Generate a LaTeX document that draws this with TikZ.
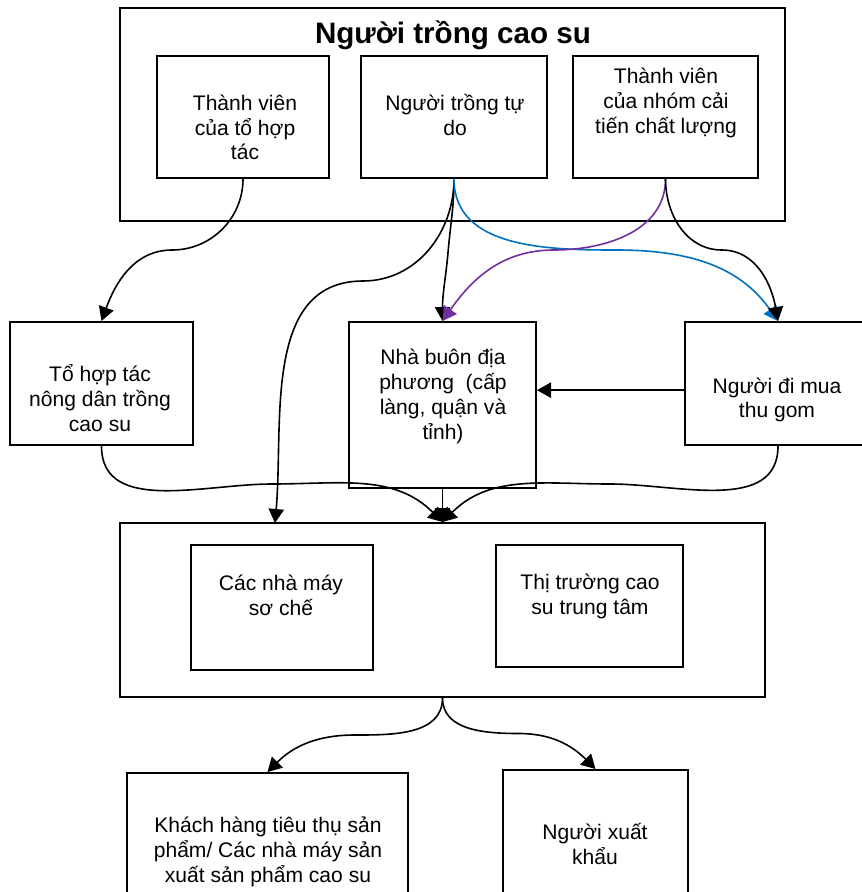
\documentclass[tikz,border=0pt]{standalone}
\usepackage{fontspec}
\setmainfont{Liberation Sans}
\usetikzlibrary{arrows.meta,calc}
\definecolor{chainblue}{HTML}{0070C0}
\definecolor{chainpurple}{HTML}{7030A0}

\begin{document}
\begin{tikzpicture}[x=.75pt,y=.75pt,
  box/.style={draw,line width=1.5pt,inner sep=0pt},
  lbl/.style={align=center,inner sep=0pt,font=\fontsize{15.8}{18.6}\selectfont},
  link/.style={line width=1.2pt,-{Triangle[length=10.5pt,width=11.5pt]}}]
\useasboundingbox(0,0)rectangle(861,-892);
% growers
\node[box,minimum width=498.75pt,minimum height=159.75pt](grow)at(452.5,-114.5){};
\node[font=\fontsize{22.2}{26}\selectfont\bfseries](growT)at(453,-35){Người trồng cao su};
\node[box,minimum width=129pt,minimum height=91.5pt](coop)at(243,-117){};
\node[box,minimum width=139.5pt,minimum height=91.5pt](free)at(454,-117){};
\node[box,minimum width=138.75pt,minimum height=91.5pt](qual)at(665.5,-117){};
\node[lbl](coopT)at(245,-127.5){Thành viên\\của tổ hợp\\tác};
\node[lbl](freeT)at(455,-115){Người trồng tự\\do};
\node[lbl](qualT)at(666,-103){Thành viên\\của nhóm cải\\tiến chất lượng};
% middlemen
\node[box,minimum width=137.25pt,minimum height=92.25pt](group)at(101.5,-383.5){};
\node[box,minimum width=140.25pt,minimum height=124.5pt](trader)at(442.5,-405){};
\node[box,minimum width=139.5pt,minimum height=92.25pt](collect)at(778,-383.5){};
\node[lbl](groupT)at(100,-398){Tổ hợp tác\\nông dân trồng\\cao su};
\node[lbl](traderT)at(443,-396.5){Nhà buôn địa\\phương\ \ (cấp\\làng, quận và\\tỉnh)};
\node[lbl](collectT)at(777,-400){Người đi mua\\thu gom};
% processing
\node[box,minimum width=483.75pt,minimum height=130.5pt](proc)at(442.5,-610){};
\node[box,minimum width=136.5pt,minimum height=93.75pt](mill)at(282,-607.5){};
\node[box,minimum width=140.25pt,minimum height=91.5pt](market)at(589.5,-606){};
\node[lbl](millT)at(281,-595){Các nhà máy\\sơ chế};
\node[lbl](marketT)at(590,-596.5){Thị trường cao\\su trung tâm};
% buyers
\node[box,minimum width=210.75pt,minimum height=112.5pt](cust)at(267.5,-848){};
\node[box,minimum width=138.75pt,minimum height=112.5pt](export)at(595.5,-845){};
\node[lbl](custT)at(268,-852){Khách hàng tiêu thụ sản\\phẩm/ Các nhà máy sản\\xuất sản phẩm cao su};
\node[lbl](exportT)at(595,-844){Người xuất\\khẩu};
\coordinate(via)at(363,-281);\coordinate(procL)at(275,-523);
% flows
\draw[link](coop.south)to[out=-90,in=0]($(coop.south)!.5!(group.north)$)to[out=180,in=70](group.north);
\draw[link](free.south)to[out=-90,in=85]($(free.south)!.5!(trader.north)$)to[out=-95,in=90](trader.north);
\draw[link](free.south)to[out=-90,in=0](via)to[out=180,in=85](procL);
\draw[link,chainblue](free.south)to[out=-90,in=180]($(free.south)!.5!(collect.north)$)to[out=0,in=125](collect.north);
\draw[link,chainpurple](qual.south)to[out=-90,in=0]($(qual.south)!.5!(trader.north)$)to[out=180,in=55](trader.north);
\draw[link](qual.south)to[out=-90,in=180]($(qual.south)!.5!(collect.north)$)to[out=0,in=100](collect.north);
\draw[link]([yshift=-5pt]collect.west)--([yshift=-5pt]collect.west-|trader.east);
\draw[link](group.south)to[out=-90,in=180]($(group.south)!.5!(proc.north)$)to[out=0,in=135](proc.north);
\draw[link](trader.south)--(proc.north);
\draw[link](collect.south)to[out=-90,in=0]($(collect.south)!.5!(proc.north)$)to[out=180,in=45](proc.north);
\draw[link](proc.south)to[out=-90,in=0]($(proc.south)!.5!(cust.north)$)to[out=180,in=45](cust.north);
\draw[link](proc.south)to[out=-90,in=180]($(proc.south)!.5!(export.north)$)to[out=0,in=135](export.north);
\end{tikzpicture}
\end{document}
